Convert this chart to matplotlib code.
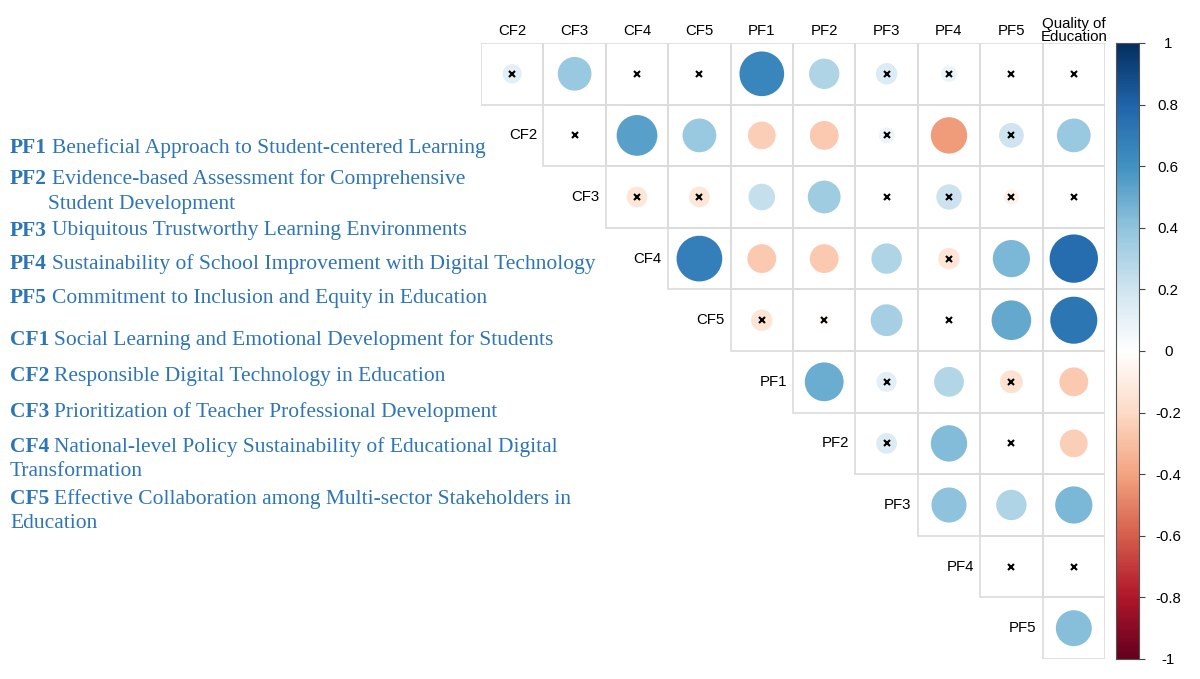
import numpy as np
import matplotlib
matplotlib.use("Agg")
import matplotlib.pyplot as plt
from matplotlib.colors import LinearSegmentedColormap, Normalize
from matplotlib.patches import Ellipse, Rectangle

# Data (upper triangle, row i starts at column i)
row_labels = ["", "CF2", "CF3", "CF4", "CF5", "PF1", "PF2", "PF3", "PF4", "PF5"]
col_labels = ["CF2", "CF3", "CF4", "CF5", "PF1", "PF2", "PF3", "PF4", "PF5",
              "Quality of\nEducation"]

corr_rows = [
    [0.12, 0.37, 0.01, 0.02, 0.65, 0.30, 0.15, 0.085, 0.0, 0.0],
    [-0.02, 0.54, 0.37, -0.25, -0.27, 0.08, -0.43, 0.20, 0.37],
    [-0.14, -0.14, 0.23, 0.35, 0.01, 0.21, -0.075, 0.0],
    [0.68, -0.27, -0.27, 0.30, -0.15, 0.45, 0.76],
    [-0.15, -0.05, 0.33, 0.0, 0.51, 0.72],
    [0.49, 0.13, 0.29, -0.17, -0.27],
    [0.14, 0.43, 0.0, -0.25],
    [0.40, 0.30, 0.45],
    [0.0, 0.0],
    [0.42],
]
# 1 = not significant (cross drawn)
insig_rows = [
    [1, 0, 1, 1, 0, 0, 1, 1, 1, 1],
    [1, 0, 0, 0, 0, 1, 0, 1, 0],
    [1, 1, 0, 0, 1, 1, 1, 1],
    [0, 0, 0, 0, 1, 0, 0],
    [1, 1, 0, 1, 0, 0],
    [0, 1, 0, 1, 0],
    [1, 0, 1, 0],
    [0, 0, 0],
    [1, 1],
    [0],
]

# (bold code, description, left x px, centre y px)
legend_items = [
    ("PF1", "Beneficial Approach to Student-centered Learning", 10, 148),
    ("PF2", "Evidence-based Assessment for Comprehensive", 10, 179),
    ("", "Student Development", 48, 204),
    ("PF3", "Ubiquitous Trustworthy Learning Environments", 10, 231),
    ("PF4", "Sustainability of School Improvement with Digital Technology", 10, 264),
    ("PF5", "Commitment to Inclusion and Equity in Education", 10, 298),
    ("CF1", "Social Learning and Emotional Development for Students", 10, 340),
    ("CF2", "Responsible Digital Technology in Education", 10, 376),
    ("CF3", "Prioritization of Teacher Professional Development", 10, 412),
    ("CF4", "National-level Policy Sustainability of Educational Digital", 10, 447),
    ("", "Transformation", 10, 472),
    ("CF5", "Effective Collaboration among Multi-sector Stakeholders in", 10, 499),
    ("", "Education", 10, 524),
]

rdbu = ["#67001F", "#B2182B", "#D6604D", "#F4A582", "#FDDBC7", "#FFFFFF",
        "#D1E5F0", "#92C5DE", "#4393C3", "#2166AC", "#053061"]
cmap = LinearSegmentedColormap.from_list("corr_rdbu", rdbu, N=200)
norm = Normalize(-1, 1)

W, H = 1200, 679
fig = plt.figure(figsize=(W / 100, H / 100), dpi=100)

# main grid axes
gx0, gx1, gy0, gy1 = 481, 1105, 43, 659
ax = fig.add_axes([gx0 / W, 1 - gy1 / H, (gx1 - gx0) / W, (gy1 - gy0) / H])
n = len(col_labels)
ax.set_xlim(0, n)
ax.set_ylim(n, 0)
ax.axis("off")

cell_w = (gx1 - gx0) / n
cell_h = (gy1 - gy0) / n
cell_px = min(cell_w, cell_h)

for i, (vals, flags) in enumerate(zip(corr_rows, insig_rows)):
    for k, (v, f) in enumerate(zip(vals, flags)):
        j = i + k
        ax.add_patch(Rectangle((j, i), 1, 1, fill=False, edgecolor="#dcdcdc",
                               lw=1.2, zorder=1))
        d = 0.9 * np.sqrt(abs(v)) * cell_px
        if d > 0:
            ax.add_patch(Ellipse((j + 0.5, i + 0.5), d / cell_w, d / cell_h,
                                 facecolor=cmap(norm(v)), edgecolor="none",
                                 zorder=2))
        if f:
            ax.plot(j + 0.5, i + 0.5, marker="x", color="black", ms=4.3,
                    mew=1.5, zorder=3)
    if row_labels[i]:
        ax.text(i - 0.1, i + 0.5, row_labels[i], ha="right", va="center",
                fontsize=10.8, family="Liberation Sans", color="black")

for j, lab in enumerate(col_labels):
    ax.text(j + 0.5, -0.2, lab, ha="center", va="center", fontsize=10.8,
            family="Liberation Sans", linespacing=0.95, color="black")

# colorbar
cax = fig.add_axes([1116 / W, 1 - gy1 / H, 23 / W, (gy1 - gy0) / H])
grad = np.linspace(-1, 1, 256).reshape(-1, 1)
cax.imshow(grad, cmap=cmap, norm=norm, aspect="auto", origin="lower",
           extent=[0, 1, -1, 1])
cax.set_xticks([])
ticks = np.round(np.arange(-1, 1.01, 0.2), 1)
cax.yaxis.tick_right()
cax.set_yticks(ticks)
cax.set_yticklabels(["%g" % (t if abs(t) > 1e-9 else 0) for t in ticks],
                    family="Liberation Sans", fontsize=10.8)
cax.tick_params(axis="y", length=4, width=0.8, color="#444444", pad=17)
for lab in cax.get_yticklabels():
    lab.set_horizontalalignment("center")
for s in cax.spines.values():
    s.set_edgecolor("#555555")
    s.set_linewidth(0.8)

# left legend text, bold code + regular description
blue = "#2E75B6"
renderer = fig.canvas.get_renderer()
for code, desc, x, yc in legend_items:
    if code:
        t = fig.text(x / W, 1 - yc / H, code, ha="left", va="center",
                     fontsize=15.5, family="Liberation Serif",
                     fontweight="bold", color=blue)
        bb = t.get_window_extent(renderer)
        x = bb.x1 + 5
    fig.text(x / W, 1 - yc / H, desc, ha="left", va="center",
             fontsize=15.5, family="Liberation Serif", color=blue)

fig.savefig("out.png", dpi=100)
